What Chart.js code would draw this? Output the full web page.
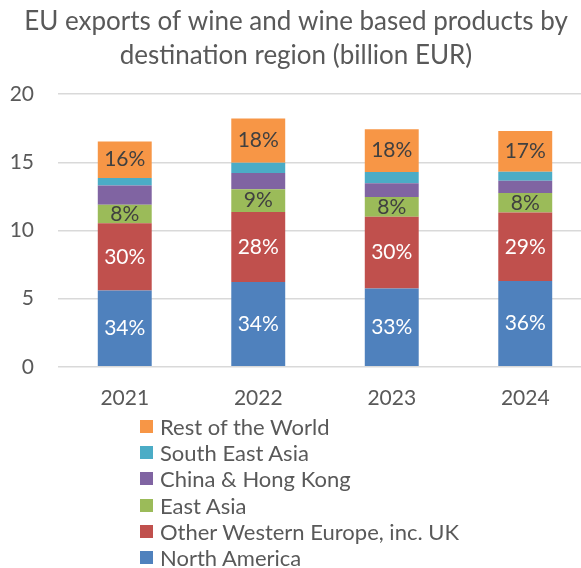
<!DOCTYPE html>
<html>
<head>
<meta charset="utf-8">
<script src="https://cdn.jsdelivr.net/npm/chart.js@4.4.1/dist/chart.umd.min.js"></script>
<style>
  html, body { margin: 0; padding: 0; background: #fff; overflow: hidden; }
  #wrap { position: relative; width: 592px; height: 568px; }
  #legend { position: absolute; left: 140px; top: 413px; font-family: Lato, sans-serif; font-size: 22px; color: #595959; }
  #legend .item { height: 26.3px; display: flex; align-items: center; white-space: nowrap; }
  #legend .box { width: 13px; height: 13px; margin-right: 7px; flex: none; }
</style>
</head>
<body>
<div id="wrap">
  <canvas id="wine-exports-chart" width="592" height="568"></canvas>
  <div id="legend"></div>
</div>
<script>
// Export values per destination, billion EUR
const years = ["2021", "2022", "2023", "2024"];
const northAmerica = [5.60, 6.22, 5.75, 6.29];
const otherWesternEurope = [4.93, 5.14, 5.25, 5.02];
const eastAsia = [1.35, 1.66, 1.45, 1.44];
const chinaHongKong = [1.41, 1.19, 1.02, 0.90];
const southEastAsia = [0.56, 0.76, 0.81, 0.66];
const restOfWorld = [2.68, 3.24, 3.15, 2.98];

const titleLines = ["EU exports of wine and wine based products by", "destination region (billion EUR)"];
const textColor = "#595959";
const fontFamily = "Lato, sans-serif";

// Draw the share of each year's total inside the bigger segments
const percentLabels = {
  id: "percentLabels",
  afterDatasetsDraw(chart) {
    const ctx = chart.ctx;
    const sets = chart.data.datasets;
    ctx.save();
    ctx.font = "21px " + fontFamily;
    ctx.textAlign = "center";
    ctx.textBaseline = "middle";
    sets.forEach((ds, i) => {
      if (!ds.labelColor) return;
      chart.getDatasetMeta(i).data.forEach((bar, j) => {
        const total = sets.reduce((sum, d) => sum + d.data[j], 0);
        const pct = Math.round((ds.data[j] / total) * 100);
        const { x, y, base } = bar.getProps(["x", "y", "base"], true);
        ctx.fillStyle = ds.labelColor;
        ctx.fillText(pct + "%", x, (y + base) / 2);
      });
    });
    ctx.restore();
  },
};

const chart = new Chart("wine-exports-chart", {
  type: "bar",
  data: {
    labels: years,
    datasets: [
      { label: "North America", data: northAmerica, backgroundColor: "#4F81BD", labelColor: "#ffffff" },
      { label: "Other Western Europe, inc. UK", data: otherWesternEurope, backgroundColor: "#C0504D", labelColor: "#ffffff" },
      { label: "East Asia", data: eastAsia, backgroundColor: "#9BBB59", labelColor: "#404040" },
      { label: "China & Hong Kong", data: chinaHongKong, backgroundColor: "#8064A2" },
      { label: "South East Asia", data: southEastAsia, backgroundColor: "#4BACC6" },
      { label: "Rest of the World", data: restOfWorld, backgroundColor: "#F79646", labelColor: "#404040" },
    ],
  },
  options: {
    responsive: false,
    animation: false,
    categoryPercentage: 1,
    barPercentage: 0.404,
    layout: { padding: { left: 0, right: 0, top: 0, bottom: 146 } },
    plugins: {
      legend: { display: false },
      tooltip: { enabled: false },
      title: {
        display: true,
        text: titleLines,
        color: textColor,
        font: { family: fontFamily, size: 26, weight: "normal", lineHeight: 1.31 },
        padding: { top: 5, bottom: 21 },
      },
    },
    scales: {
      x: {
        stacked: true,
        grid: { display: false },
        border: { display: false },
        ticks: { color: textColor, font: { family: fontFamily, size: 21 }, padding: 11 },
      },
      y: {
        stacked: true,
        min: 0,
        max: 20,
        grid: { color: "#D9D9D9", lineWidth: 1.5, drawTicks: false },
        border: { display: false },
        ticks: { stepSize: 5, color: textColor, font: { family: fontFamily, size: 21 }, padding: 24 },
        afterFit(scale) {
          scale.width = 58;
        },
      },
    },
  },
  plugins: [percentLabels],
});

// Legend as a single column, top entry is the top segment
const legendBox = document.getElementById("legend");
chart.data.datasets
  .slice()
  .reverse()
  .forEach((ds) => {
    const row = document.createElement("div");
    row.className = "item";
    const box = document.createElement("span");
    box.className = "box";
    box.style.background = ds.backgroundColor;
    row.appendChild(box);
    row.appendChild(document.createTextNode(ds.label));
    legendBox.appendChild(row);
  });
</script>
</body>
</html>
